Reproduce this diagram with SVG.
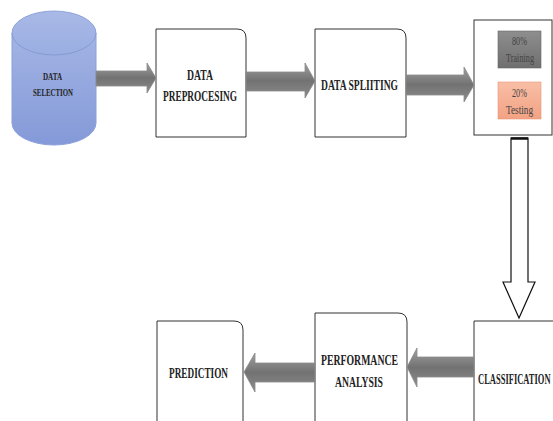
<svg xmlns="http://www.w3.org/2000/svg" width="553" height="421" viewBox="0 0 553 421">
<defs>
<linearGradient id="cyl" x1="0" y1="0" x2="0" y2="1"><stop offset="0" stop-color="#a3b4e4"/><stop offset="1" stop-color="#8499d8"/></linearGradient>
<linearGradient id="cylTop" x1="0" y1="0" x2="0" y2="1"><stop offset="0" stop-color="#a9b9e6"/><stop offset="1" stop-color="#9aaee2"/></linearGradient>
<linearGradient id="arr" x1="0" y1="0" x2="0" y2="1"><stop offset="0" stop-color="#a0a0a0"/><stop offset="0.5" stop-color="#727272"/><stop offset="1" stop-color="#8c8c8c"/></linearGradient>
<linearGradient id="gbox" x1="0" y1="0" x2="0" y2="1"><stop offset="0" stop-color="#8e8e8e"/><stop offset="1" stop-color="#6f6f6f"/></linearGradient>
<linearGradient id="obox" x1="0" y1="0" x2="0" y2="1"><stop offset="0" stop-color="#f9bea6"/><stop offset="1" stop-color="#f2a283"/></linearGradient>
</defs>
<style>
.box{fill:#fff;stroke:#333;stroke-width:1}
.lbl{font-family:"Liberation Serif","Times New Roman",serif;font-weight:bold;font-size:15px;fill:#222;text-anchor:start}
.sm{font-family:"Liberation Serif","Times New Roman",serif;font-size:13px;fill:#444}
.arrow{fill:url(#arr);stroke:#8a8a8a;stroke-width:0.8}
</style>
<rect width="553" height="421" fill="#fff"/>
<g id="data-selection">
<path d="M12 33 V123 A42 22 0 0 0 96 123 V33 Z" fill="url(#cyl)" stroke="#8aa0da" stroke-width="1"/>
<ellipse cx="54" cy="33" rx="42" ry="22" fill="url(#cylTop)" stroke="#7f95d2" stroke-width="0.8"/>
<text class="lbl" x="43" y="80" style="font-size:11px" textLength="19" lengthAdjust="spacingAndGlyphs">DATA</text>
<text class="lbl" x="33" y="96" style="font-size:11px" textLength="40" lengthAdjust="spacingAndGlyphs">SELECTION</text>
</g>
<g id="data-preprocessing">
<path class="box" d="M156 29 H237 Q246 29 246 38 V137 H156 Z"/>
<text class="lbl" x="187" y="80" textLength="26" lengthAdjust="spacingAndGlyphs">DATA</text>
<text class="lbl" x="163" y="101" textLength="74" lengthAdjust="spacingAndGlyphs">PREPROCESING</text>
</g>
<g id="data-splitting">
<path class="box" d="M315 29 H397 Q406 29 406 38 V137 H315 Z"/>
<text class="lbl" x="321" y="90" textLength="77" lengthAdjust="spacingAndGlyphs">DATA SPLIITING</text>
</g>
<g id="split-result">
<rect class="box" x="474" y="20" width="78" height="115"/>
<rect x="498" y="31" width="43" height="37" fill="url(#gbox)" stroke="#666" stroke-width="0.6"/>
<text class="sm" x="512" y="45" textLength="15" lengthAdjust="spacingAndGlyphs">80%</text>
<text class="sm" x="506" y="62" textLength="28" lengthAdjust="spacingAndGlyphs">Training</text>
<rect x="498" y="82" width="43" height="37" fill="url(#obox)" stroke="#e8967a" stroke-width="0.6"/>
<text class="sm" x="512" y="97" textLength="15" lengthAdjust="spacingAndGlyphs">20%</text>
<text class="sm" x="506" y="114" textLength="27" lengthAdjust="spacingAndGlyphs">Testing</text>
</g>
<g id="classification">
<path class="box" d="M474 430 V321 H560"/>
<text class="lbl" transform="translate(478 384) scale(1 1.75)" x="0" y="0" style="font-size:8.5px">CLASSIFICATION</text>
</g>
<g id="performance-analysis">
<path class="box" d="M315 430 V313 H398 Q407 313 407 322 V430"/>
<text class="lbl" x="321" y="365" textLength="77" lengthAdjust="spacingAndGlyphs">PERFORMANCE</text>
<text class="lbl" x="335" y="387" textLength="48" lengthAdjust="spacingAndGlyphs">ANALYSIS</text>
</g>
<g id="prediction">
<path class="box" d="M157 430 V321 H234 Q243 321 243 330 V430"/>
<text class="lbl" x="169" y="378" textLength="59" lengthAdjust="spacingAndGlyphs">PREDICTION</text>
</g>
<g id="connectors">
<polygon class="arrow" points="96,71 147,71 147,63 156,78 147,93 147,86 96,86"/>
<polygon class="arrow" points="246,72 305,72 305,63 315,81 305,98 305,91 246,91"/>
<polygon class="arrow" points="406,75 464,75 464,67 474,85 464,102 464,95 406,95"/>
<polygon points="511,138 528,138 528,282 535,282 519,318 503,282 511,282" fill="#fff" stroke="#111" stroke-width="1.2"/>
<line x1="511" y1="138.5" x2="528" y2="138.5" stroke="#111" stroke-width="2.5"/>
<polygon class="arrow" points="474,357 417,357 417,348 407,367 417,387 417,377 474,377"/>
<polygon class="arrow" points="315,363 255,363 255,353 244,372 255,392 255,382 315,382"/>
</g>
</svg>
